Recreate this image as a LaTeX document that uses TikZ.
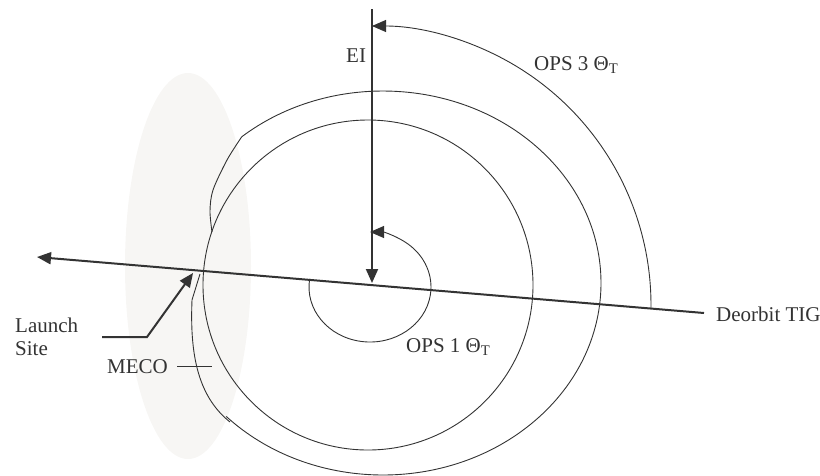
\documentclass[tikz,border=0pt]{standalone}
\usepackage{fontspec}
\setmainfont{Liberation Serif}
\usetikzlibrary{arrows.meta}
\definecolor{ink}{HTML}{333333}
\definecolor{bandgray}{HTML}{F7F6F4}
\begin{document}
\begin{tikzpicture}[x=1pt,y=-1pt,
  thinline/.style={draw=ink,line width=0.9pt},
  thickline/.style={draw=ink,line width=2pt},
  tipped/.style={-{Triangle[length=14pt,width=12pt]}},
  lbl/.style={inner sep=0pt,text=ink,font=\fontsize{21}{23}\selectfont}]
\useasboundingbox (0,0) rectangle (820,475);
% shaded launch band
\fill[bandgray] (188,266) ellipse[x radius=63,y radius=193];
% key coordinates
\coordinate (eiTop) at (372,9);
\coordinate (eiPt) at (372,283);
\coordinate (tigEnd) at (704,313);
\coordinate (westEnd) at (37,257);
\coordinate (lsStart) at (200,274);
\coordinate (lsBend) at (192,300);
\coordinate (mecoEnd) at (230,422);
\coordinate (leadA) at (102,337);
\coordinate (leadB) at (147,337);
\coordinate (leadTip) at (193,273);
\coordinate (mecoA) at (177,366);
\coordinate (mecoB) at (212,366);
% inner orbit
\draw[thinline] (368,285) circle[radius=165];
% outer orbit
\draw[thinline] (383,283) ++(136:218 and 192)
  arc[start angle=136, end angle=-130.4, x radius=218, y radius=192] coordinate (kink);
\draw[thinline] plot[smooth] coordinates {(kink) (227,160) (213,190) (210,211) (212,232)};
% ascent trajectory
\draw[thinline] (lsStart) -- (lsBend) .. controls (190,350) and (196,395) .. (mecoEnd);
% MECO tick
\draw[thinline] (mecoA) -- (mecoB);
% OPS 1 arc
\draw[thinline,tipped] (370,287) ++(188.4:61 and 55)
  arc[start angle=188.4, end angle=-90, x radius=61, y radius=55];
% OPS 3 arc
\draw[thinline,tipped] (372,305) ++(0.7:279 and 279)
  arc[start angle=0.7, end angle=-90, radius=279];
% main line and EI line
\draw[thickline,tipped] (tigEnd) -- (westEnd);
\draw[thickline,tipped] (eiTop) -- (eiPt);
% launch site leader
\draw[thickline,tipped] (leadA) -- (leadB) -- (leadTip);
% labels
\node[lbl,anchor=base west] (ei) at (346,62) {EI};
\node[lbl,anchor=base west] (ops3) at (534,70) {OPS 3 Θ\textsubscript{T}};
\node[lbl,anchor=base west] (ops1) at (406,352) {OPS 1 Θ\textsubscript{T}};
\node[lbl,anchor=base west] (tig) at (716,321) {Deorbit TIG};
\node[lbl,anchor=base west] (launch) at (15,332) {Launch};
\node[lbl,anchor=base west] (site) at (15,355) {Site};
\node[lbl,anchor=base east] (meco) at (168,373) {MECO};
\end{tikzpicture}
\end{document}
